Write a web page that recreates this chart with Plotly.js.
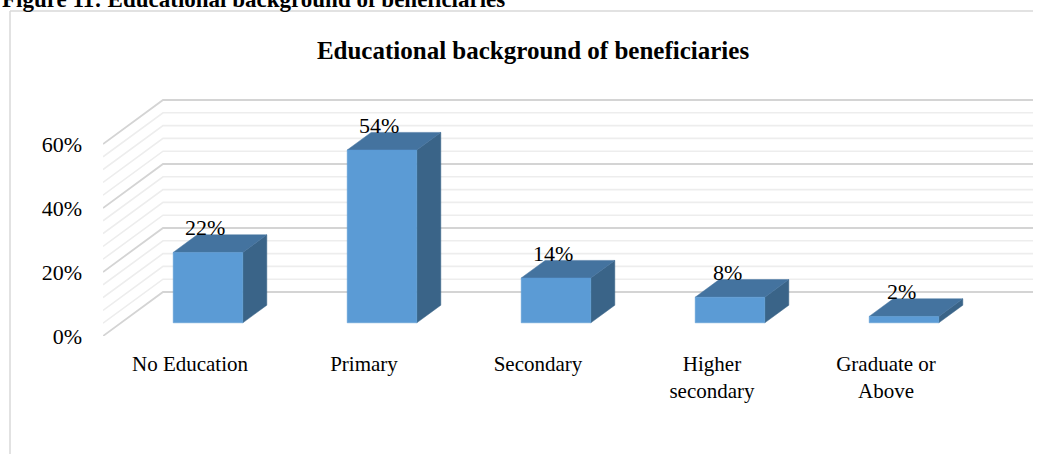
<!DOCTYPE html>
<html>
<head>
<meta charset="utf-8">
<script src="https://cdn.plot.ly/plotly-3.0.1.min.js"></script>
<style>
  html, body { margin: 0; padding: 0; background: #ffffff; }
  #chart { width: 1040px; height: 454px; }
</style>
</head>
<body>
<div id="chart"></div>
<script>
// ---- data ----
const categories = ['No Education', 'Primary', 'Secondary', 'Higher<br>secondary', 'Graduate or<br>Above'];
const values = [22, 54, 14, 8, 2];
const valueLabels = ['22%', '54%', '14%', '8%', '2%'];
const yTickVals = [0, 20, 40, 60];
const yTickText = ['0%', '20%', '40%', '60%'];
const gridMinorStep = 4;
const gridMajorStep = 20;
const gridMax = 60;

// ---- 3D projection parameters (in axis units) ----
const DX = 60 / 174;     // depth shift along x (category units)
const DY = 44 / 3.2;     // depth shift along y (percent units)
const barWidth = 0.4;    // fraction of category band
const depthFront = 0.3, depthBack = 0.7;
const nCat = categories.length;

const font = 'Liberation Serif, "Times New Roman", Times, serif';
const traces = [];

// gridlines (side wall + back wall)
function gridTrace(step, skipMajor, color, width) {
  const xs = [], ys = [];
  for (let g = 0; g <= gridMax + 1e-9; g += step) {
    if (skipMajor && Math.abs(g % gridMajorStep) < 1e-9) continue;
    xs.push(0, DX, nCat + DX, null);
    ys.push(g, g + DY, g + DY, null);
  }
  return { type: 'scatter', mode: 'lines', x: xs, y: ys, connectgaps: false,
    line: { color: color, width: width }, hoverinfo: 'skip', showlegend: false };
}
traces.push(gridTrace(gridMinorStep, true, '#ededed', 1.6));
traces.push(gridTrace(gridMajorStep, false, '#d4d4d4', 1.8));

// bars
const colFront = '#5b9bd5', colTop = '#44739f', colSide = '#3a6488';
const annotations = [];
values.forEach((v, i) => {
  const x0 = i + (1 - barWidth) / 2 + depthFront * DX;
  const x1 = x0 + barWidth;
  const y0 = depthFront * DY;
  const ddx = (depthBack - depthFront) * DX;
  const ddy = (depthBack - depthFront) * DY;
  const poly = (xs, ys, c) => traces.push({ type: 'scatter', mode: 'lines', x: xs, y: ys,
    fill: 'toself', fillcolor: c, line: { color: c, width: 0.5 }, hoverinfo: 'skip', showlegend: false });
  poly([x1, x1 + ddx, x1 + ddx, x1, x1], [y0, y0 + ddy, y0 + v + ddy, y0 + v, y0], colSide);
  poly([x0, x1, x1 + ddx, x0 + ddx, x0], [y0 + v, y0 + v, y0 + v + ddy, y0 + v + ddy, y0 + v], colTop);
  poly([x0, x1, x1, x0, x0], [y0, y0, y0 + v, y0 + v, y0], colFront);
  annotations.push({ x: (x0 + x1) / 2, y: y0 + v + ddy, xref: 'x', yref: 'y',
    text: valueLabels[i], showarrow: false, xanchor: 'center', yanchor: 'middle',
    xshift: -3, yshift: 7, font: { family: font, size: 22, color: '#000000' } });
});

// figure caption (cut off at top, as in the source)
annotations.push({ xref: 'paper', yref: 'paper', x: -103 / 930, y: (336 - 14) / 240,
  xanchor: 'left', yanchor: 'bottom', showarrow: false,
  text: '<b>Figure 11: Educational background of beneficiaries</b>',
  font: { family: font, size: 23, color: '#000000' } });

const layout = {
  width: 1040, height: 454,
  margin: { l: 103, r: 7, t: 96, b: 118, pad: 0 },
  paper_bgcolor: '#ffffff', plot_bgcolor: 'rgba(0,0,0,0)',
  showlegend: false,
  title: { text: '<b>Educational background of beneficiaries</b>',
    xref: 'container', yref: 'container', x: 533 / 1040, y: 1 - 50 / 454,
    xanchor: 'center', yanchor: 'middle',
    font: { family: font, size: 25, color: '#000000' } },
  xaxis: { range: [0, nCat + DX], showgrid: false, zeroline: false, showline: false,
    tickmode: 'array', tickvals: categories.map((c, i) => i + 0.5), ticktext: categories,
    ticks: '', ticklabelstandoff: 13, fixedrange: true,
    tickfont: { family: font, size: 21, color: '#000000' } },
  yaxis: { range: [0, 75], showgrid: false, zeroline: false, showline: false,
    tickmode: 'array', tickvals: yTickVals, ticktext: yTickText,
    ticks: '', ticklabelstandoff: 20, fixedrange: true,
    tickfont: { family: font, size: 22, color: '#000000' } },
  annotations: annotations,
  shapes: [
    { type: 'line', xref: 'paper', yref: 'paper', x0: -93 / 930, x1: 1, y0: (336 - 11) / 240, y1: (336 - 11) / 240,
      line: { color: '#d9d9d9', width: 1.5 } },
    { type: 'line', xref: 'paper', yref: 'paper', x0: -93 / 930, x1: -93 / 930, y0: (336 - 11) / 240, y1: (336 - 460) / 240,
      line: { color: '#d9d9d9', width: 1.5 } }
  ]
};

Plotly.newPlot('chart', traces, layout, { displayModeBar: false, staticPlot: true });
</script>
</body>
</html>
